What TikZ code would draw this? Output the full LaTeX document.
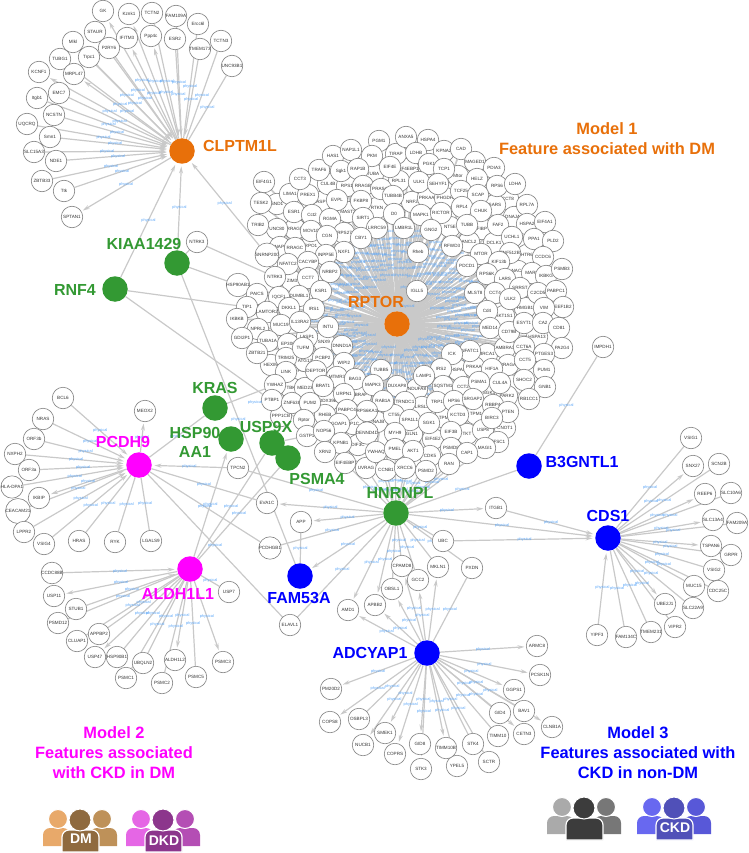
\documentclass[tikz,border=0pt]{standalone}
\usepackage{fontspec}
\setmainfont{Liberation Sans}
\usepackage{xcolor}
\usetikzlibrary{arrows.meta}
\definecolor{hubOrange}{HTML}{E8700A}
\definecolor{hubMagenta}{HTML}{FF00FF}
\definecolor{hubGreen}{HTML}{339933}
\definecolor{hubBlue}{HTML}{0000FF}
\definecolor{linkGray}{HTML}{C9C9C9}
\definecolor{physBlue}{HTML}{5AA5F7}
\definecolor{dmLeft}{HTML}{E8A96A}
\definecolor{dmMid}{HTML}{8F6A3F}
\definecolor{dmRight}{HTML}{BE9159}
\definecolor{dkdLeft}{HTML}{E566E5}
\definecolor{dkdMid}{HTML}{8C368C}
\definecolor{dkdRight}{HTML}{B44EB4}
\definecolor{ctrlLeft}{HTML}{AAAAAA}
\definecolor{ctrlMid}{HTML}{3C3C3C}
\definecolor{ctrlRight}{HTML}{777777}
\definecolor{ckdLeft}{HTML}{6868F0}
\definecolor{ckdMid}{HTML}{5050B8}
\definecolor{ckdRight}{HTML}{5858D8}
\pgfdeclarelayer{edges}
\pgfdeclarelayer{elabels}
\pgfsetlayers{edges,elabels,main}
\tikzset{
  gene/.style={circle,draw=black!50,fill=white,line width=0.6pt,inner sep=0pt,minimum size=21.5pt,text=black!80,font=\fontsize{4.6}{5}\selectfont},
  hub/.style={circle,fill=#1,inner sep=0pt,minimum size=25.5pt},
  hublabel/.style={text=#1,inner sep=0pt,align=center,font=\fontsize{16}{19}\selectfont\bfseries},
  modeltitle/.style={text=#1,inner sep=0pt,align=center,font=\fontsize{16.4}{20}\selectfont\bfseries},
  icontag/.style={text=white,inner sep=0pt,font=\fontsize{14}{14}\selectfont\bfseries},
  link/.style={draw=linkGray,line width=1.2pt},
  linkdense/.style={draw=linkGray,line width=1.7pt},
  linkout/.style={link,->,shorten >=1.5pt},
  linkin/.style={link,<-,shorten <=2.5pt},
  physlabel/.style={text=physBlue,inner sep=0pt,font=\fontsize{3.9}{4}\selectfont},
}
\newcommand{\hublinks}[3]{%
  \begin{pgfonlayer}{edges}
    \foreach \gene in {#3} \draw[#2] (#1) -- (\gene);
  \end{pgfonlayer}
  \begin{pgfonlayer}{elabels}
    \foreach \gene in {#3} \path (#1) -- node[physlabel] {physical} (\gene);
  \end{pgfonlayer}}
\newcommand{\barelinks}[2]{%
  \begin{pgfonlayer}{edges}
    \foreach \gene in {#2} \draw[link] (#1) -- (\gene);
  \end{pgfonlayer}}
\newcommand{\peopleicon}[5]{%
  \begin{scope}[shift={(#1,#2)}]
    \fill[#3] (0,0) [rounded corners=7pt]-- (0,-18) -- (27,-18) [sharp corners]-- (27,0) -- cycle;
    \fill[#5] (47,0) [rounded corners=7pt]-- (47,-18) -- (74,-18) [sharp corners]-- (74,0) -- cycle;
    \filldraw[fill=#3,draw=white,line width=1pt] (15,-27) circle (9.5);
    \filldraw[fill=#5,draw=white,line width=1pt] (59,-27) circle (9.5);
    \filldraw[fill=#4,draw=white,line width=1.2pt] (19,6) [rounded corners=7pt]-- (19,-16) -- (56,-16) [sharp corners]-- (56,6) -- cycle;
    \filldraw[fill=#4,draw=white,line width=1pt] (37,-26) circle (11);
  \end{scope}}
\newcommand{\clustergenes}{
    SND1/277/204,ASP/321/202,RRAGD/295/229,UNC80/277/229,NAPI/280/247,RPO1/311/246,ZIM3/292/281,
    TUBA/373/174,CUL4B/328/184,RPS1/347/186,MAST2/348/212,RTKN/377/208,EIF4EBP1/408/169,RPL31/399/181,
    TIRAP/396/154,CCT8/508/199,SARS/495/205,NRF2/412/202,PRKAA1/428/198,PHGDH/445/198,DNAJA3/514/217,
    FIBP/482/229,NT5E/450/227,ANCL2/469/242,DCLK1/494/243,HTR6/527/255,NACA/518/271,Mtor/458/176,
    AKT1S1/504/316,HMGB1/525/308,HSPA13/537/337,BRCA1/487/354,AMBRA1/505/348,HSPA8/458/370,PRKAA/474/367,
    RRAGA/508/365,NDUFA8/417/389,SGK3/489/393,PARK2/507/396,LRSL2/422/407,TPM1/476/414,TPM2/445/418,
    TKT/467/434,USP8/483/430,CNOT1/505/428,GLN1/412/434,EIF4E2/433/439,CDK5/430/456,CP1C/353/424,
    BRAF/361/395,DNAJB/377/422,DIF3C/358/445,Pfn/301/371,TBK/291/388,MED23/305/388,ATG13/305/361,
    SNX9/324/342,LASP1/307/337,HEXIM/271/365,PPP1CB/281/416,DDX39B/328/401,RHEB/325/415,
    EIF4G1/264/182,TESK2/261/203,LIMA1/290/194,PREX1/308/195,CCT3/300/179,TRAF6/319/170,HAS1/333/156,
    NAP1L1/351/150,PGM1/379/141,PKM/372/156,Sgk1/341/171,RAP1B/358/169,EIF4E/390/167,RRAGB/363/186,
    PRAS40/381/189,TUBB4B/393/196,EVPL/337/200,FKBP8/361/201,ESR1/294/212,Cct2/312/215,RGMA/330/219,
    D0/394/214,SIRT1/363/218,TRIB2/258/225,MOV10/311/231,IRPS27/344/233,CGN/327/236,LRRC59/377/228,
    CBY1/361/238,RRAGC/295/248,NXF1/344/252,INPP5E/326/255,SNRNP200/267/255,NFATC2/288/264,CACYBP/308/262,
    NRBP2/330/272,NTRK3/275/277,CCT7/308/278,HSP90AB1/238/285,
    ANXA5/406/137,HSPA4/428/140,LDHB/416/153,KPNA2/444/151,CAD/461/149,MAGED1/475/162,PDIA3/494/168,
    PGK1/429/164,TCP1/444/169,HELZ/477/179,RPS6/497/186,LDHA/515/184,ULK1/419/182,SEHYF1/438/184,
    TCF25/461/191,SCAP/478/195,RPL7A/527/205,RPL4/462/207,CHUK/481/211,MAPK1/421/215,RICTOR/441/213,
    TUBB/467/225,FAF2/498/225,HSPA2/527/224,EIF4A1/545/222,LMBR1L/404/228,GNG2/431/230,UCHL1/512/237,
    PPA1/534/239,PLD2/553/241,Rheb/418/252,RFWD3/452/246,ZNF512B/510/253,CCDC6/543/257,MTOR/481/254,
    KIF13b/499/262,PDCD1/467/266,MARK/532/273,RPS6K/487/274,LARS/505/279,IKBKG/546/276,PSMB3/562/269,
    SRRST/520/288,IGLL5/417/291,MLST8/475/293,CCT4/495/293,ULK2/510/299,C2CD5/538/293,PABPC1/556/291,
    EEF1B2/563/307,Cd4/487/311,VIM/544/308,MED14/490/328,CD79B/509/332,ESYT1/524/323,CA2/543/323,
    CD81/559/328,NFATC1/470/351,CCT6A/524/347,PA2G4/562/348,PTGES3/544/354,ICK/452/354,CCT5/525/360,
    IRS2/441/369,HIF1A/492/369,PUM1/544/370,LAMP1/424/376,SHOC2/524/380,SQSTM1/443/386,CCT2/463/387,
    PSMA1/479/382,CUL4A/500/383,GNB1/545/387,DUXAP8/397/386,RB1CC1/529/399,TRP1/437/402,HPS6/454/401,
    SRGAP2/473/399,RBBP4/493/405,TRNDC1/405/402,PTEN/508/412,KCTD3/458/415,BIRC3/492/418,CT55/394/415,
    SPA1L1/410/420,SGK1/429/423,EIF3B/451/432,MYH9/395/433,TFSC1/498/442,PSMD8/451/448,MAGI1/485/448,
    KSR1/321/291,DUMBL1/299/296,IQCF1/279/297,PAICS/257/294,TIP1/247/307,LAMTOR2/267/312,DKKL1/289/308,
    IRS1/314/309,IKBKB/237/319,NPRL2/258/329,MUC19/281/325,IL13RA2/300/322,INTU/328/327,GDI2P1/242/338,
    TUBA1A/268/341,EP300/288/344,DNND1A/342/346,ZBTB21/257/353,TRIM25/286/358,TUFM/303/348,PCBP2/323/358,
    WIPI2/344/363,LINK/286/372,DEPTOR/316/371,MTMR3/337/377,BAG3/355/379,TUBB5/381/370,MAPK3/373/385,
    YWHAZ/275/385,BRAT1/323/386,URPN1/344/394,PTBP1/272/400,ZNF638/292/403,PUM2/310/403,RAB1A/383/401,
    PABPC4/347/410,RPS6KA1/367/411,Rptor/304/420,GOAP1/339/424,GSTP1/307/436,NOP56/324/431,DENND4D/367/433,
    KPNB1/341/443,XRN2/325/452,EIF4EBP/345/463,UVRAG/366/468,YWHAQ/376/452,PMEL/395/449,AKT1/413/451,
    CCNB1/386/470,XRCC6/405/468,PSMD2/426/471,RAN/449/464,CAP1/467/453}

\begin{document}
\begin{tikzpicture}[x=1pt,y=-1pt,>={Stealth[length=7pt,width=4pt]}]
  \useasboundingbox (0,0) rectangle (748,853);

  \node[hub=hubOrange] (RPTOR) at (397,324) {};
  \node[hub=hubOrange] (CLPTM1L) at (182,151) {};
  \node[hub=hubGreen] (KIAA1429) at (177,263) {};
  \node[hub=hubGreen] (RNF4) at (115,289) {};
  \node[hub=hubGreen] (KRAS) at (215,408) {};
  \node[hub=hubGreen] (HSP90AA1) at (231,439) {};
  \node[hub=hubGreen] (USP9X) at (272,443) {};
  \node[hub=hubGreen] (PSMA4) at (288,458) {};
  \node[hub=hubGreen] (HNRNPL) at (396,513) {};
  \node[hub=hubMagenta] (PCDH9) at (139,465) {};
  \node[hub=hubMagenta] (ALDH1L1) at (190,569) {};
  \node[hub=hubBlue] (B3GNTL1) at (529,466) {};
  \node[hub=hubBlue] (CDS1) at (608,538) {};
  \node[hub=hubBlue] (FAM53A) at (300,576) {};
  \node[hub=hubBlue] (ADCYAP1) at (427,653) {};

  \foreach \nm/\x/\y in \clustergenes
    \node[gene] (\nm) at (\x,\y) {\nm};
  \begin{pgfonlayer}{edges}
    \foreach \nm/\x/\y in \clustergenes
      \draw[linkdense] (RPTOR) -- (\nm);
  \end{pgfonlayer}
  \begin{pgfonlayer}{elabels}
    \foreach \nm/\x/\y in \clustergenes
      \path (RPTOR) -- node[physlabel] {physical} (\nm);
  \end{pgfonlayer}

  \foreach \nm/\x/\y in {
    GK/103/11,Kznk1/129/14,TCTN2/152/13,FAM109A/176/16,Ercc6l/198/24,TCTN3/221/41,UNC93B1/232/66,
    TMEM173/200/49,ESR2/175/39,Ppp4c/151/36,IFITM3/127/38,STAUR/95/32,P2RY6/109/48,Mlkl/73/42,TUBG1/60/59,
    Trpc1/89/57,MRPL47/74/74,KCNF1/39/72,Itgb1/37/98,EMC7/59/93,UQCRQ/27/124,NCSTN/54/115,Smn1/50/137,
    SLC15A3/34/152,NDE1/56/161,ZBTB33/42/181,Ttk/64/191,SPTAN1/72/217,
    BCL6/63/398,MEOX2/145/411,NRAS/43/419,ORF3b/34/439,NXPH2/15/454,ORF3a/29/470,HLA-DPA1/12/487,
    CEACAM21/18/511,IKBIP/39/498,LPPR2/24/532,VSIG4/44/544,HRAS/79/541,RYK/115/542,LGALS9/151/541,
    TPCN2/238/468,CCDC88B/52/573,USP11/54/596,STUB1/76/609,PSMD12/58/623,CLUAP1/77/641,APPBP2/99/634,
    USP47/95/657,HSP90B1/117/657,UBQLN2/143/663,ALDH1L2/175/660,PSMC1/126/678,PSMC2/162/683,PSMC5/196/677,
    PSMC3/223/662,USP7/229/592,ELAVL1/290/625,
    EVA1C/267/503,APP/301/522,PCDHGB1/270/548,UBC/443/541,MKLN1/438/567,PXDN/472/568,ITGB1/496/508,
    CPAMD8/402/566,GCC2/418/580,OBSL1/392/589,APBB2/375/605,AMD1/348/610,
    ARMC8/537/646,PCSK1N/540/675,GGPS1/514/690,CETN3/524/734,CLNB1A/552/727,BAV1/524/711,GID4/500/713,
    TIMM10/498/736,SCTR/489/762,STK4/473/744,YPEL5/457/766,TIMM10B/446/748,STK3/421/769,GID8/420/744,
    COPRS/395/754,NUCB1/363/745,SMEK1/385/733,OSBPL3/359/719,COPS8/330/722,PM20D2/331/689,
    IMPDH1/603/347,VSIG1/691/438,SNX27/693/466,SCN2B/719/464,SLC10A6/731/493,REEP6/705/494,
    FAM209A/737/523,SLC13A4/713/520,GRPR/731/555,TSPAN6/711/546,CDC25C/718/591,VSIG2/714/570,MUC15/694/586,
    SLC22A9/693/608,UBE2J1/665/604,VIPR2/675/627,TMEM231/651/632,FAM134C/626/637,YIPF3/597/635}
    \node[gene] (\nm) at (\x,\y) {\nm};
  \node[gene] (NTRK3b) at (197,242) {NTRK3};

  \hublinks{CLPTM1L}{linkout}{GK,KCNF1,MRPL47,SPTAN1,Kznk1,IFITM3,Ppp4c}
  \hublinks{CLPTM1L}{linkin}{P2RY6,STAUR,Mlkl,TUBG1,Trpc1,Itgb1,EMC7,UQCRQ,NCSTN,Smn1,SLC15A3,NDE1,ZBTB33,Ttk,ESR2,TMEM173,TCTN2,KIAA1429,RNF4,SNRNP200}
  \hublinks{CLPTM1L}{link}{FAM109A,Ercc6l,TCTN3,UNC93B1}
  \hublinks{KIAA1429}{link}{FAM53A}
  \barelinks{KIAA1429}{NTRK3b,HSP90AB1}
  \barelinks{NTRK3b}{NTRK3}
  \barelinks{RNF4}{TIP1,UVRAG}
  \barelinks{KRAS}{YWHAZ}
  \hublinks{KRAS}{link}{PCDH9}
  \barelinks{USP9X}{GSTP1}
  \node[physlabel] (lblKRASYWHAZ) at (255,402) {physical};

  \hublinks{PCDH9}{linkout}{MEOX2,IKBIP}
  \hublinks{PCDH9}{linkin}{BCL6,NRAS,ORF3b,NXPH2,ORF3a,HLA-DPA1,CEACAM21,LPPR2,VSIG4,TPCN2}
  \hublinks{PCDH9}{link}{HRAS,RYK,LGALS9,EVA1C,PCDHGB1,ELAVL1}
  \hublinks{ALDH1L1}{linkout}{USP11,USP47,ALDH1L2,PSMC3,HSP90AA1}
  \hublinks{ALDH1L1}{linkin}{CCDC88B,STUB1}
  \hublinks{ALDH1L1}{link}{PSMD12,CLUAP1,APPBP2,HSP90B1,UBQLN2,PSMC1,PSMC2,PSMC5,USP7,PSMA4,USP9X}

  \hublinks{HNRNPL}{linkout}{EVA1C,APP,ITGB1,FAM53A,AMD1,APBB2}
  \hublinks{HNRNPL}{link}{PCDHGB1,TPCN2,ELAVL1,UBC,PXDN,MKLN1,GCC2,CPAMD8,OBSL1,B3GNTL1,EIF4EBP,UVRAG,CCNB1,XRCC6,PSMD2,RAN,YWHAQ,PMEL,AKT1,CDK5,CAP1,MAGI1}
  \hublinks{FAM53A}{link}{APP}
  \hublinks{B3GNTL1}{link}{IMPDH1}

  \hublinks{ADCYAP1}{linkout}{AMD1,APBB2,OBSL1,CPAMD8,GCC2,MKLN1,PM20D2,COPS8,NUCB1,SMEK1,COPRS,TIMM10B,GID8,STK3,ARMC8,PCSK1N,GGPS1,CETN3,CLNB1A}
  \hublinks{ADCYAP1}{link}{PXDN,OSBPL3,STK4,YPEL5,SCTR,TIMM10,GID4,BAV1}

  \hublinks{CDS1}{linkout}{SNX27,REEP6,SLC13A4,TSPAN6,UBE2J1}
  \hublinks{CDS1}{linkin}{YIPF3,UBC,HNRNPL,ITGB1}
  \hublinks{CDS1}{link}{VSIG1,SCN2B,SLC10A6,FAM209A,GRPR,VSIG2,MUC15,CDC25C,SLC22A9,VIPR2,TMEM231,FAM134C}

  \node[hublabel=hubOrange] (lblCLPTM1L) at (240,146) {CLPTM1L};
  \node[hublabel=hubOrange] (lblRPTOR) at (376,302) {RPTOR};
  \node[hublabel=hubGreen] (lblKIAA1429) at (144,244) {KIAA1429};
  \node[hublabel=hubGreen] (lblRNF4) at (75,290) {RNF4};
  \node[hublabel=hubGreen] (lblKRAS) at (215,388) {KRAS};
  \node[hublabel=hubGreen] (lblHSP90) at (195,442) {HSP90\\AA1};
  \node[hublabel=hubGreen] (lblUSP9X) at (266,427) {USP9X};
  \node[hublabel=hubGreen] (lblPSMA4) at (317,479) {PSMA4};
  \node[hublabel=hubGreen] (lblHNRNPL) at (400,493) {HNRNPL};
  \node[hublabel=hubMagenta] (lblPCDH9) at (123,442) {PCDH9};
  \node[hublabel=hubMagenta] (lblALDH1L1) at (178,594) {ALDH1L1};
  \node[hublabel=hubBlue] (lblB3GNTL1) at (582,462) {B3GNTL1};
  \node[hublabel=hubBlue] (lblCDS1) at (608,516) {CDS1};
  \node[hublabel=hubBlue] (lblFAM53A) at (299,598) {FAM53A};
  \node[hublabel=hubBlue] (lblADCYAP1) at (370,653) {ADCYAP1};

  \node[modeltitle=hubOrange] (model1) at (607,139) {Model 1\\Feature associated with DM};
  \node[modeltitle=hubMagenta] (model2) at (114,753) {Model 2\\Features associated\\with CKD in DM};
  \node[modeltitle=hubBlue] (model3) at (638,753) {Model 3\\Features associated with\\CKD in non-DM};

  \peopleicon{43}{846}{dmLeft}{dmMid}{dmRight}
  \peopleicon{126}{846}{dkdLeft}{dkdMid}{dkdRight}
  \peopleicon{547}{834}{ctrlLeft}{ctrlMid}{ctrlRight}
  \peopleicon{637}{834}{ckdLeft}{ckdMid}{ckdRight}
  \node[icontag] (tagDM) at (81,839) {DM};
  \node[icontag] (tagDKD) at (164,841) {DKD};
  \node[icontag] (tagCKD) at (675,828) {CKD};
\end{tikzpicture}
\end{document}
